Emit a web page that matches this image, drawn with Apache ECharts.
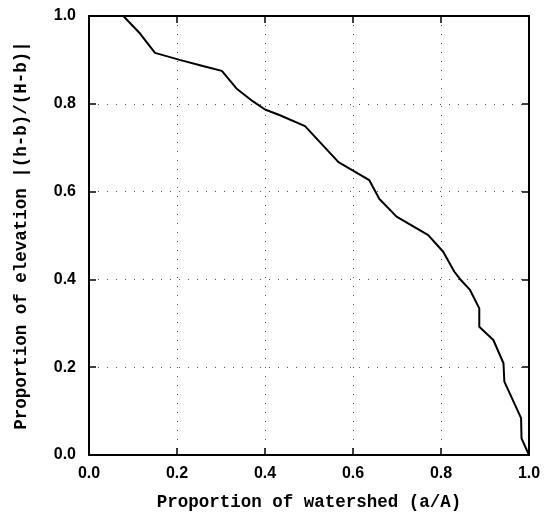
<!DOCTYPE html>
<html>
<head>
    <meta charset="utf-8">
    <title>Hypsometric curve</title>
    <script src="https://cdn.jsdelivr.net/npm/echarts@6/dist/echarts.min.js"></script>
</head>
<body style="margin:0;background:#fff;">
    <div id="main" style="width: 550px;height:527px;"></div>
    <script type="text/javascript">
    var myChart = echarts.init(document.getElementById('main'));

    // proportion of watershed area (a/A) and proportion of elevation (h-b)/(H-b)
    var areaProp = [0.078, 0.116, 0.150, 0.206, 0.263, 0.302, 0.335, 0.372, 0.400, 0.434, 0.491,
                    0.567, 0.637, 0.660, 0.699, 0.771, 0.805, 0.830, 0.843, 0.866, 0.887,
                    0.887, 0.919, 0.942, 0.944, 0.982, 0.983, 1.0];
    var elevProp = [1.0, 0.960, 0.916, 0.900, 0.885, 0.875, 0.835, 0.806, 0.787, 0.774, 0.749,
                    0.667, 0.626, 0.583, 0.543, 0.501, 0.463, 0.418, 0.401, 0.376, 0.334,
                    0.292, 0.262, 0.209, 0.167, 0.084, 0.038, 0.0];
    var tickLabels = ['0.0', '0.2', '0.4', '0.6', '0.8', '1.0'];

    var curve = areaProp.map(function (a, i) { return [a, elevProp[i]]; });

    var titleFont = 'Liberation Mono';
    var tickFont = 'Liberation Sans';
    var gridLine = { show: true, lineStyle: { color: '#555', width: 1, type: [1, 8] } };

    function axisBase(pos, showLabel) {
        return {
            type: 'value', min: 0, max: 1, interval: 0.2, position: pos,
            axisLine: { show: true, onZero: false, lineStyle: { color: '#000', width: 2 } },
            axisTick: { show: true, inside: true, length: 7, lineStyle: { color: '#000', width: 1.5 } },
            axisLabel: {
                show: showLabel, color: '#000', fontFamily: tickFont, fontWeight: 'bold', fontSize: 16,
                formatter: function (v) { return tickLabels[Math.round(v * 5)]; }
            },
            splitLine: { show: false }
        };
    }

    var xBottom = axisBase('bottom', true);
    xBottom.axisLabel.margin = 11;
    xBottom.splitLine = gridLine;
    xBottom.name = 'Proportion of watershed (a/A)';
    xBottom.nameLocation = 'middle';
    xBottom.nameGap = 39;
    xBottom.nameTextStyle = { color: '#000', fontFamily: titleFont, fontWeight: 'bold', fontSize: 17.5 };

    var yLeft = axisBase('left', true);
    yLeft.axisLabel.margin = 13;
    yLeft.splitLine = gridLine;
    yLeft.name = 'Proportion of elevation |(h-b)/(H-b)|';
    yLeft.nameLocation = 'middle';
    yLeft.nameGap = 58;
    yLeft.nameTextStyle = { color: '#000', fontFamily: titleFont, fontWeight: 'bold', fontSize: 17.5 };

    option = {
        backgroundColor: '#fff',
        animation: false,
        grid: { left: 89, right: 21, top: 16, bottom: 72 },
        xAxis: [xBottom, axisBase('top', false)],
        yAxis: [yLeft, axisBase('right', false)],
        series: [{
            type: 'line',
            data: curve,
            symbol: 'none',
            lineStyle: { color: '#000', width: 2 }
        }]
    };

    myChart.setOption(option);
    </script>
</body>
</html>
